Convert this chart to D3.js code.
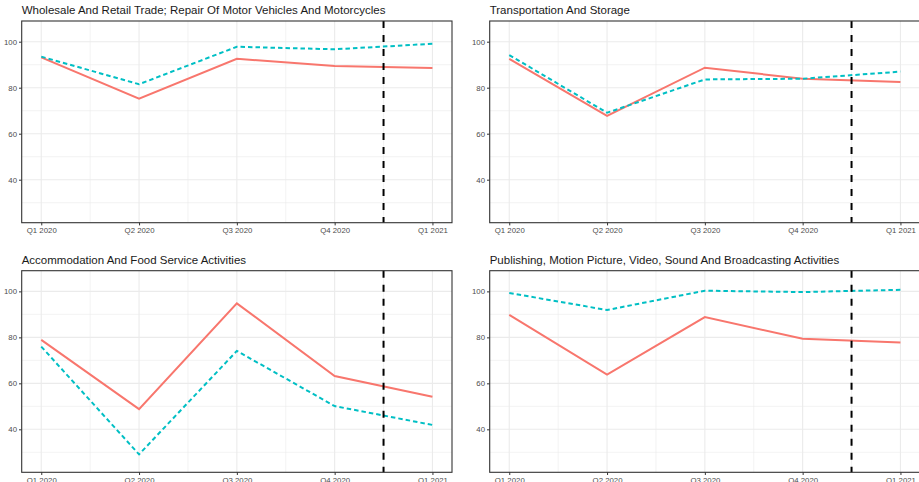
<!DOCTYPE html>
<html>
<head>
<meta charset="utf-8">
<script src="https://cdn.jsdelivr.net/npm/d3@7"></script>
<style>
  html, body { margin: 0; padding: 0; background: #fff; }
  svg { display: block; font-family: "Liberation Sans", Arial, sans-serif; }
</style>
</head>
<body>
<svg id="chart" width="919" height="482"></svg>
<script>
// ---- data ----
const quarters = ["Q1 2020", "Q2 2020", "Q3 2020", "Q4 2020", "Q1 2021"];
const panelTitles = [
  "Wholesale And Retail Trade; Repair Of Motor Vehicles And Motorcycles",
  "Transportation And Storage",
  "Accommodation And Food Service Activities",
  "Publishing, Motion Picture, Video, Sound And Broadcasting Activities"
];
const yTicks = [40, 60, 80, 100];
const yMinorTicks = [30, 50, 70, 90];
// solid red series
const wholesaleRed   = [93.2, 75.2, 92.6, 89.4, 88.6];
const transportRed   = [92.5, 67.7, 88.7, 83.9, 82.5];
const accommRed      = [78.9, 48.8, 94.8, 63.2, 54.2];
const publishingRed  = [89.8, 63.8, 88.8, 79.4, 77.8];
// dashed cyan series
const wholesaleCyan  = [93.5, 81.5, 97.8, 96.7, 99.1];
const transportCyan  = [94.2, 69.1, 83.6, 83.9, 87.0];
const accommCyan     = [76.0, 29.1, 74.1, 50.1, 41.9];
const publishingCyan = [99.3, 91.9, 100.3, 99.7, 100.7];
const redSeries  = [wholesaleRed, transportRed, accommRed, publishingRed];
const cyanSeries = [wholesaleCyan, transportCyan, accommCyan, publishingCyan];
const yDomain = [21.3, 109];

// ---- layout ----
const svg = d3.select("#chart");
const panels = [
  {x0: 21.7, x1: 452,   y0: 21,    y1: 222.7},
  {x0: 489.7, x1: 920.0, y0: 21,    y1: 222.7},
  {x0: 21.7, x1: 452,   y0: 270.7, y1: 472.3},
  {x0: 489.7, x1: 920.0, y0: 270.7, y1: 472.3}
];
const redColor = "#F8766D", cyanColor = "#00BFC4";

panels.forEach((p, i) => {
  const g = svg.append("g");
  const x = d3.scalePoint().domain(quarters).range([p.x0, p.x1]).padding(0.2);
  const y = d3.scaleLinear().domain(yDomain).range([p.y1, p.y0]);
  const step = x.step();

  // minor grid
  yMinorTicks.forEach(v => g.append("line")
    .attr("x1", p.x0).attr("x2", p.x1).attr("y1", y(v)).attr("y2", y(v))
    .attr("stroke", "#EBEBEB").attr("stroke-width", 0.6));
  quarters.slice(0, -1).forEach(q => g.append("line")
    .attr("x1", x(q) + step / 2).attr("x2", x(q) + step / 2)
    .attr("y1", p.y0).attr("y2", p.y1)
    .attr("stroke", "#EBEBEB").attr("stroke-width", 0.6));
  // major grid
  yTicks.forEach(v => g.append("line")
    .attr("x1", p.x0).attr("x2", p.x1).attr("y1", y(v)).attr("y2", y(v))
    .attr("stroke", "#EBEBEB").attr("stroke-width", 1.1));
  quarters.forEach(q => g.append("line")
    .attr("x1", x(q)).attr("x2", x(q)).attr("y1", p.y0).attr("y2", p.y1)
    .attr("stroke", "#EBEBEB").attr("stroke-width", 1.1));

  const line = d3.line().x((d, j) => x(quarters[j])).y(d => y(d));
  g.append("path").datum(redSeries[i]).attr("d", line)
    .attr("fill", "none").attr("stroke", redColor).attr("stroke-width", 2);
  g.append("path").datum(cyanSeries[i]).attr("d", line)
    .attr("fill", "none").attr("stroke", cyanColor).attr("stroke-width", 2)
    .attr("stroke-dasharray", "4.5,3");

  // vertical dashed separator
  const xv = (x(quarters[3]) + x(quarters[4])) / 2;
  g.append("line").attr("x1", xv).attr("x2", xv).attr("y1", p.y0).attr("y2", p.y1)
    .attr("stroke", "#000").attr("stroke-width", 2).attr("stroke-dasharray", "7,7");

  // border
  g.append("rect").attr("x", p.x0).attr("y", p.y0)
    .attr("width", p.x1 - p.x0).attr("height", p.y1 - p.y0)
    .attr("fill", "none").attr("stroke", "#333").attr("stroke-width", 1.1);

  // axes
  const xAxis = d3.axisBottom(x).tickSize(2.7).tickPadding(2);
  const xg = g.append("g").attr("transform", `translate(0,${p.y1})`).call(xAxis);
  const yAxis = d3.axisLeft(y).tickValues(yTicks).tickSize(2.7).tickPadding(2);
  const yg = g.append("g").attr("transform", `translate(${p.x0},0)`).call(yAxis);
  [xg, yg].forEach(a => {
    a.select(".domain").remove();
    a.selectAll(".tick line").attr("stroke", "#333").attr("stroke-width", 1);
    a.selectAll(".tick text").attr("fill", "#4D4D4D")
      .style("font-size", "7.8px").style("font-family", "'Liberation Sans', Arial, sans-serif");
  });

  // title
  g.append("text").attr("x", p.x0).attr("y", p.y0 - 7)
    .attr("fill", "#1a1a1a").style("font-size", "11.5px")
    .text(panelTitles[i]);
});
</script>
</body>
</html>
